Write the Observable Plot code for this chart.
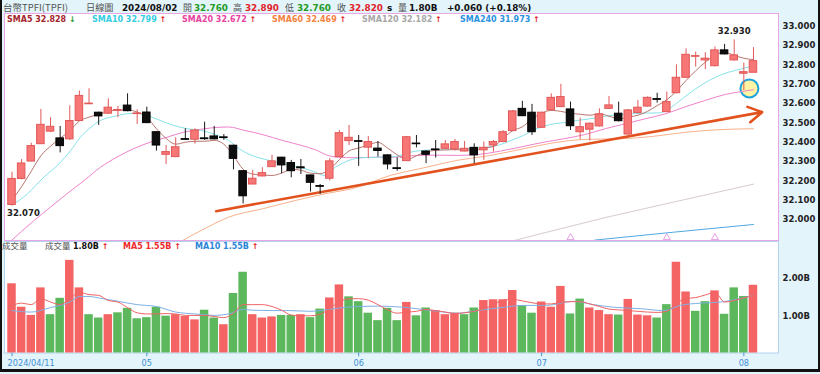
<!DOCTYPE html>
<html><head><meta charset="utf-8">
<script src="https://cdn.jsdelivr.net/npm/d3@7"></script>
<script src="https://cdn.jsdelivr.net/npm/@observablehq/plot@0.6"></script>
<style>
html,body{margin:0;padding:0;background:#fff;}
#wrap{position:relative;width:820px;height:374px;overflow:hidden;background:#e3f4fa;}
#wrap > *{position:absolute;}
</style></head><body><div id="wrap"></div><script>
// ---------------- data ----------------
const open = [32.075,32.21,32.30,32.39,32.455,32.42,32.415,32.51,32.597,32.553,
32.548,32.563,32.59,32.546,32.554,32.452,32.335,32.323,32.416,32.413,
32.42,32.43,32.425,32.382,32.25,32.181,32.223,32.271,32.32,32.292,
32.27,32.228,32.172,32.211,32.323,32.406,32.405,32.372,32.367,32.332,
32.265,32.302,32.393,32.352,32.362,32.366,32.363,32.352,32.371,32.358,
32.383,32.401,32.458,32.573,32.553,32.475,32.565,32.582,32.57,32.452,
32.465,32.482,32.573,32.548,32.44,32.551,32.585,32.623,32.556,32.654,
32.734,32.843,32.824,32.794,32.876,32.824,32.755,32.76];
const high = [32.245,32.31,32.395,32.57,32.527,32.482,32.589,32.665,32.677,32.556,
32.625,32.585,32.651,32.568,32.582,32.455,32.383,32.423,32.47,32.47,
32.504,32.482,32.44,32.385,32.252,32.254,32.268,32.332,32.322,32.306,
32.311,32.23,32.181,32.315,32.461,32.487,32.435,32.43,32.404,32.335,
32.32,32.43,32.435,32.355,32.409,32.409,32.415,32.404,32.392,32.401,
32.409,32.46,32.565,32.612,32.596,32.556,32.651,32.70,32.608,32.525,
32.5,32.573,32.637,32.608,32.57,32.617,32.635,32.654,32.66,32.801,
32.884,32.867,32.864,32.893,32.907,32.93,32.81,32.89];
const low = [32.07,32.205,32.30,32.39,32.45,32.345,32.41,32.51,32.597,32.487,
32.545,32.527,32.558,32.492,32.497,32.354,32.285,32.32,32.41,32.39,
32.409,32.413,32.41,32.257,32.08,32.18,32.22,32.27,32.237,32.216,
32.233,32.142,32.13,32.2,32.32,32.383,32.275,32.315,32.323,32.257,
32.25,32.30,32.371,32.289,32.318,32.363,32.355,32.35,32.289,32.306,
32.349,32.398,32.455,32.533,32.435,32.472,32.562,32.58,32.461,32.413,
32.406,32.479,32.57,32.505,32.437,32.548,32.582,32.603,32.553,32.651,
32.73,32.789,32.776,32.79,32.853,32.82,32.668,32.76];
const close = [32.21,32.29,32.38,32.49,32.48,32.38,32.51,32.64,32.60,32.534,
32.579,32.567,32.561,32.549,32.499,32.383,32.349,32.374,32.413,32.461,
32.416,32.415,32.422,32.314,32.12,32.211,32.24,32.301,32.28,32.25,
32.265,32.19,32.17,32.301,32.447,32.423,32.403,32.401,32.355,32.285,
32.262,32.426,32.39,32.335,32.36,32.389,32.401,32.366,32.332,32.371,
32.401,32.452,32.56,32.535,32.452,32.553,32.63,32.634,32.483,32.478,
32.496,32.544,32.591,32.509,32.565,32.579,32.63,32.62,32.608,32.734,
32.853,32.846,32.833,32.876,32.855,32.85,32.763,32.82];
// volume in billions
const volume = [1.86,1.23,1.01,1.75,1.03,1.47,2.49,1.75,1.03,0.94,
1.03,1.08,1.20,0.92,0.95,1.23,0.99,1.03,0.98,0.89,
1.15,0.94,0.76,1.60,2.17,1.03,0.94,0.97,1.01,1.01,
1.03,0.95,1.18,1.48,1.83,1.51,1.38,1.07,0.87,1.20,
0.87,1.36,1.00,1.21,1.14,1.03,1.07,1.03,1.21,1.41,
1.43,1.43,1.68,1.27,1.07,1.37,1.23,1.79,1.05,1.45,
1.21,1.14,1.03,1.02,1.44,1.02,1.00,0.94,1.30,2.44,
1.64,1.12,1.38,1.67,1.04,1.75,1.52,1.82];
// r = red (up) bar, g = green (down) bar
const volDir = "rrrrggrrgg"+"rggggggrrr"+"ggrggrrrgg"+"rggrrggggg"+"grggrrrggr"+"rrrggrrrgg"+"rrrgrrrggr"+"rggrgggr";

// moving-average lines, [trading-day index, value]
const sma5 = [[0,32.10],[1,32.17],[2,32.25],[3,32.33],[4,32.38],[5,32.42],[6,32.46],[7,32.51],[8,32.53],[9,32.545],[10,32.56],[11,32.567],[12,32.568],[13,32.556],[14,32.53],[15,32.47],[16,32.42],[17,32.39],[18,32.40],[19,32.405],[20,32.405],[21,32.41],[22,32.39],[23,32.33],[24,32.26],[25,32.235],[26,32.23],[27,32.228],[28,32.24],[29,32.26],[30,32.255],[31,32.24],[32,32.237],[33,32.26],[34,32.31],[35,32.355],[36,32.37],[37,32.385],[38,32.40],[39,32.37],[40,32.335],[41,32.31],[42,32.33],[43,32.35],[44,32.358],[45,32.36],[46,32.362],[47,32.36],[48,32.36],[49,32.37],[50,32.378],[51,32.42],[52,32.46],[53,32.48],[54,32.52],[55,32.55],[56,32.565],[57,32.56],[58,32.55],[59,32.545],[60,32.54],[61,32.548],[62,32.535],[63,32.522],[64,32.53],[65,32.54],[66,32.56],[67,32.59],[68,32.62],[69,32.665],[70,32.72],[71,32.77],[72,32.815],[73,32.85],[74,32.866],[75,32.85],[76,32.835],[77,32.828]];
const sma10 = [[0,32.073],[1.6,32.133],[3.3,32.219],[4.9,32.289],[6.1,32.358],[7.1,32.426],[8.2,32.478],[9.2,32.513],[10.6,32.534],[12,32.548],[13,32.55],[14,32.539],[15.4,32.513],[16.8,32.487],[18.2,32.47],[19.6,32.461],[21.1,32.44],[22.5,32.409],[23.6,32.366],[24.9,32.332],[26.7,32.306],[28.1,32.289],[30.1,32.268],[31.5,32.245],[32.4,32.228],[33.6,32.271],[35,32.306],[36.4,32.32],[38.4,32.323],[39.8,32.326],[41.4,32.349],[43.5,32.361],[46.2,32.366],[48.3,32.371],[50.4,32.383],[51.8,32.409],[53.1,32.435],[54.5,32.47],[55.9,32.492],[57.7,32.504],[58.7,32.513],[60.1,32.522],[61.6,32.535],[63.7,32.545],[65.8,32.551],[67.2,32.552],[68.2,32.573],[69.6,32.625],[71,32.677],[72.4,32.72],[73.7,32.751],[75.1,32.772],[76.2,32.786],[77,32.797]];
const sma20 = [[-0.3,31.88],[2.3,31.995],[4.0,32.064],[5.7,32.133],[7.5,32.202],[9.2,32.271],[10.9,32.323],[12.6,32.366],[14.4,32.401],[16.1,32.426],[17.8,32.452],[19.6,32.467],[21.6,32.478],[22.5,32.479],[24.1,32.462],[26,32.44],[28.1,32.409],[30.1,32.383],[31.5,32.361],[32.9,32.33],[34,32.322],[35.5,32.32],[37.6,32.322],[39.8,32.323],[41.5,32.33],[44,32.333],[46.2,32.332],[48.5,32.337],[50.7,32.354],[53.1,32.378],[55.2,32.4],[57.3,32.418],[59.5,32.44],[61.6,32.47],[63.7,32.496],[65.8,32.522],[67.9,32.548],[70,32.585],[72,32.617],[74.1,32.648],[75.8,32.663],[77,32.672]];
const sma60 = [[17.5,31.885],[20.3,31.96],[22.5,32.012],[26,32.055],[29.4,32.098],[32.9,32.137],[35.3,32.159],[39.3,32.228],[43,32.27],[46.2,32.306],[49.5,32.33],[53.1,32.366],[56,32.395],[59.6,32.415],[63.2,32.418],[66.5,32.43],[70,32.452],[73.4,32.465],[77,32.470]];
const sma120 = [[52.1,31.89],[54.9,31.926],[61.8,32.012],[68.7,32.09],[77,32.183]];
const sma240 = [[60.5,31.893],[68.7,31.934],[77,31.974]];
const volMa5 = [[0,1.28],[1,1.34],[2,1.30],[3,1.46],[4,1.37],[5,1.30],[6,1.46],[7,1.63],[8,1.57],[9,1.55],[10,1.41],[11,1.37],[12,1.22],[13,1.08],[14,1.05],[15,1.05],[16,1.06],[17,1.05],[18,1.01],[19,1.01],[20,1.01],[21,0.98],[22,0.95],[23,1.07],[24,1.30],[25,1.30],[26,1.30],[27,1.25],[28,1.15],[29,1.02],[30,1.0],[31,1.0],[32,1.04],[33,1.2],[34,1.38],[35,1.46],[36,1.46],[37,1.42],[38,1.30],[39,1.16],[40,1.07],[41,1.10],[42,1.12],[43,1.17],[44,1.14],[45,1.10],[46,1.06],[47,1.08],[48,1.12],[49,1.19],[50,1.30],[51,1.42],[52,1.44],[53,1.40],[54,1.35],[55,1.32],[56,1.32],[57,1.36],[58,1.38],[59,1.38],[60,1.32],[61,1.25],[62,1.18],[63,1.16],[64,1.14],[65,1.12],[66,1.10],[67,1.09],[68,1.12],[69,1.34],[70,1.46],[71,1.49],[72,1.56],[73,1.63],[74,1.37],[75,1.41],[76,1.48],[77,1.55]];
const volMa10 = [[0,1.14],[2,1.10],[4,1.22],[6,1.37],[7,1.52],[8,1.52],[9,1.48],[11,1.39],[13,1.30],[15,1.25],[17,1.10],[19,1.05],[21,1.01],[22.5,1.05],[24,1.17],[25,1.15],[27,1.14],[28.8,1.14],[31,1.12],[33.4,1.19],[35.8,1.25],[38,1.26],[40.7,1.23],[44.2,1.12],[46.2,1.07],[48.3,1.14],[51.1,1.23],[53.1,1.28],[55.5,1.28],[58.3,1.39],[60.4,1.30],[62.5,1.23],[65.3,1.19],[67.7,1.14],[69.4,1.28],[71.5,1.34],[73.6,1.37],[75.6,1.46],[77,1.55]];

const priceTicks = [32.0,32.1,32.2,32.3,32.4,32.5,32.6,32.7,32.8,32.9,33.0];
const volTicks = [1, 2];
const tickDays = [0, 14, 36, 55, 76];
const tickLabels = ["2024/04/11", "05", "06", "07", "08"];
const trendLine = [{d1: 21.2, p1: 32.043, d2: 77.9, p2: 32.556}];
const highlight = [[76.58, 32.679]];
const maxLabel = [{d: 75, p: 32.930, t: "32.930"}];
const minLabel = [{d: 0, p: 32.070, t: "32.070"}];
const markDays = [58, 68, 73];

// ---------------- drawing ----------------
const wrap = document.getElementById("wrap");
const DV = "'DejaVu Sans', Verdana, sans-serif";
const CJK = "'Noto Sans CJK TC','Noto Sans CJK SC',sans-serif";
const xDomain = [-0.78, 79.6];
const idx = d3.range(open.length);
const upIdx = idx.filter(i => close[i] >= open[i]);
const dnIdx = idx.filter(i => close[i] < open[i]);
const bodyMin = 0.0035;
const bLo = i => { const lo = Math.min(open[i], close[i]), hi = Math.max(open[i], close[i]); return hi - lo < bodyMin ? (lo + hi) / 2 - bodyMin / 2 : lo; };
const bHi = i => { const lo = Math.min(open[i], close[i]), hi = Math.max(open[i], close[i]); return hi - lo < bodyMin ? (lo + hi) / 2 + bodyMin / 2 : hi; };
const hw = 0.39;
const X = d => d[0], Y = d => d[1];

const price = Plot.plot({
  width: 820, height: 229,
  marginLeft: 4, marginRight: 42, marginTop: 1, marginBottom: 1,
  x: {domain: xDomain, axis: null},
  y: {domain: [31.891, 33.067]},
  style: {background: "transparent", overflow: "visible", fontFamily: DV},
  marks: [
    Plot.frame({fill: "white", stroke: "#e8a6e6"}),
    Plot.axisY({anchor: "right", ticks: priceTicks, tickFormat: d3.format(".3f"), tickSize: 0, tickPadding: 4, fontSize: 8.5, fontWeight: "bold", fill: "#222"}),
    Plot.dot(highlight, {x: X, y: Y, r: 9, fill: "#fdf3a2", stroke: "#1ca3dc", strokeWidth: 2}),
    Plot.dot(markDays, {x: d => d, y: 31.906, symbol: "triangle", r: 2.6, stroke: "#e69ee3", fill: "none", strokeWidth: 1}),
    Plot.line(sma240, {x: X, y: Y, stroke: "#4fa8e4", strokeWidth: 1, clip: true}),
    Plot.line(sma120, {x: X, y: Y, stroke: "#d8cbcb", strokeWidth: 1, clip: true}),
    Plot.line(sma60, {x: X, y: Y, stroke: "#f8b18b", strokeWidth: 1, curve: "monotone-x", clip: true}),
    Plot.line(sma20, {x: X, y: Y, stroke: "#ee82cb", strokeWidth: 1, curve: "monotone-x", clip: true}),
    Plot.line(sma10, {x: X, y: Y, stroke: "#86e2ea", strokeWidth: 1, curve: "monotone-x", clip: true}),
    Plot.line(sma5, {x: X, y: Y, stroke: "#b8756e", strokeWidth: 1, curve: "monotone-x", clip: true}),
    Plot.arrow(trendLine, {x1: "d1", y1: "p1", x2: "d2", y2: "p2", stroke: "#e2521e", strokeWidth: 2.6, headLength: 9}),
    Plot.ruleX(upIdx, {x: i => i, y1: i => low[i], y2: i => high[i], stroke: "#e25858", strokeWidth: 1}),
    Plot.ruleX(dnIdx, {x: i => i, y1: i => low[i], y2: i => high[i], stroke: "#1a1a1a", strokeWidth: 1}),
    Plot.rect(upIdx, {x1: i => i - hw, x2: i => i + hw, y1: bLo, y2: bHi, fill: "#f77676", stroke: "#e25858", strokeWidth: 1}),
    Plot.rect(dnIdx, {x1: i => i - hw, x2: i => i + hw, y1: bLo, y2: bHi, fill: "#0e0e0e", stroke: "#000", strokeWidth: 1}),
    Plot.text(maxLabel, {x: "d", y: "p", text: "t", dy: -9, fontWeight: "bold", fontSize: 8.5, fill: "#222", fontFamily: DV}),
    Plot.text(minLabel, {x: "d", y: "p", text: "t", dy: 7, dx: -5, textAnchor: "start", fontWeight: "bold", fontSize: 8.5, fill: "#222", fontFamily: DV})
  ]
});
price.style.left = "0px"; price.style.top = "12px";
d3.select(price).selectAll('g[aria-label="y-axis tick label"] text').attr("font-weight", "bold");
wrap.appendChild(price);

const volUp = idx.filter(i => volDir[i] === "r");
const volDn = idx.filter(i => volDir[i] === "g");
const vhw = 0.44;
const vol = Plot.plot({
  width: 820, height: 134,
  marginLeft: 4, marginRight: 42, marginTop: 1, marginBottom: 21.5,
  x: {domain: xDomain, axis: null},
  y: {domain: [0, 2.997]},
  style: {background: "transparent", overflow: "visible", fontFamily: DV},
  marks: [
    Plot.frame({fill: "white", stroke: "#b2d3ee"}),
    Plot.axisY({anchor: "right", ticks: volTicks, tickFormat: d => d.toFixed(2) + "B", tickSize: 0, tickPadding: 4, fontSize: 8.5, fontWeight: "bold", fill: "#222"}),
    Plot.rect(volUp, {x1: i => i - vhw, x2: i => i + vhw, y1: 0, y2: i => volume[i], fill: "#f56464"}),
    Plot.rect(volDn, {x1: i => i - vhw, x2: i => i + vhw, y1: 0, y2: i => volume[i], fill: "#5db75d"}),
    Plot.line(volMa10, {x: X, y: Y, stroke: "#7eb0e6", strokeWidth: 1, curve: "monotone-x"}),
    Plot.line(volMa5, {x: X, y: Y, stroke: "#f06464", strokeWidth: 1, curve: "monotone-x"}),
    Plot.ruleX(tickDays, {x: d => d, y1: 0, y2: -0.1, stroke: "#4a93d6"}),
    Plot.text(tickDays.slice(0, 1), {x: d => d, y: -0.29, text: (d, i) => tickLabels[i], textAnchor: "start", dx: -4.5, fontSize: 8.2, fill: "#3f8fd6", fontFamily: DV}),
    Plot.text(tickDays.slice(1), {x: d => d, y: -0.29, text: (d, i) => tickLabels[i + 1], fontSize: 8.2, fill: "#3f8fd6", fontFamily: DV})
  ]
});
vol.style.left = "0px"; vol.style.top = "240px";
d3.select(vol).selectAll('g[aria-label="y-axis tick label"] text').attr("font-weight", "bold");
wrap.appendChild(vol);

// ---------------- header, legends (real text) ----------------
const ov = d3.create("svg").attr("width", 820).attr("height", 374)
  .style("left", "0px").style("top", "0px").style("pointer-events", "none");
function put(x, y, parts, size) {
  const t = ov.append("text").attr("x", x).attr("y", y).attr("font-size", size);
  for (const [s, c, w, f] of parts) t.append("tspan").attr("fill", c).attr("font-weight", w || "normal").attr("font-family", f || DV).text(s);
}
const G = "#1f9a26", R = "#e2232a", K = "#111", GR = "#555";
const hy = 11, hs = 8.8;
put(3, hy, [["台幣TPFI(TPFI)", GR, "normal", CJK]], 9.5);
put(86, hy, [["日線圖", GR, "normal", CJK]], 9.2);
put(122, hy, [["2024/08/02", K, "bold"]], hs);
put(183, hy, [["開", GR, "normal", CJK]], 9);
put(194, hy, [["32.760", G, "bold"]], hs);
put(233, hy, [["高", GR, "normal", CJK]], 9);
put(245, hy, [["32.890", R, "bold"]], hs);
put(285, hy, [["低", GR, "normal", CJK]], 9);
put(297, hy, [["32.760", G, "bold"]], hs);
put(337, hy, [["收", GR, "normal", CJK]], 9);
put(349, hy, [["32.820", R, "bold"]], hs);
put(387, hy, [["s", K, "bold"]], hs);
put(398, hy, [["量", GR, "normal", CJK]], 9);
put(409, hy, [["1.80B", K, "bold"]], hs);
put(447, hy, [["+0.060 (+0.18%)", K, "bold"]], hs);

const ly = 22, ls = 8;
put(7, ly, [["SMA5 32.828", "#a3262c", "bold"], [" ↓", G, "bold"]], ls);
put(92, ly, [["SMA10 32.799", "#35cde0", "bold"], [" ↑", R, "bold"]], ls);
put(182, ly, [["SMA20 32.672", "#e8449f", "bold"], [" ↑", R, "bold"]], ls);
put(272, ly, [["SMA60 32.469", "#f4823f", "bold"], [" ↑", R, "bold"]], ls);
put(362, ly, [["SMA120 32.182", "#a8a8a8", "bold"], [" ↑", R, "bold"]], ls);
put(460, ly, [["SMA240 31.973", "#2b93e0", "bold"], [" ↑", R, "bold"]], ls);

const vy = 249;
put(2, vy, [["成交量", GR, "normal", CJK]], 8.5);
put(45, vy, [["成交量", GR, "normal", CJK]], 8.5);
put(73, vy, [["1.80B", K, "bold"], [" ↑", R, "bold"]], ls);
put(123, vy, [["MA5 1.55B", "#ee2b2b", "bold"], [" ↑", R, "bold"]], ls);
put(195, vy, [["MA10 1.55B", "#2b86d6", "bold"], [" ↑", R, "bold"]], ls);
wrap.appendChild(ov.node());

// outer black frame
for (const [l, t, w, h] of [[0, 0, 2, 372], [818, 0, 2, 372], [0, 369, 820, 3]]) {
  const b = document.createElement("div");
  Object.assign(b.style, {left: l + "px", top: t + "px", width: w + "px", height: h + "px", background: "#111"});
  wrap.appendChild(b);
}
</script></body></html>
